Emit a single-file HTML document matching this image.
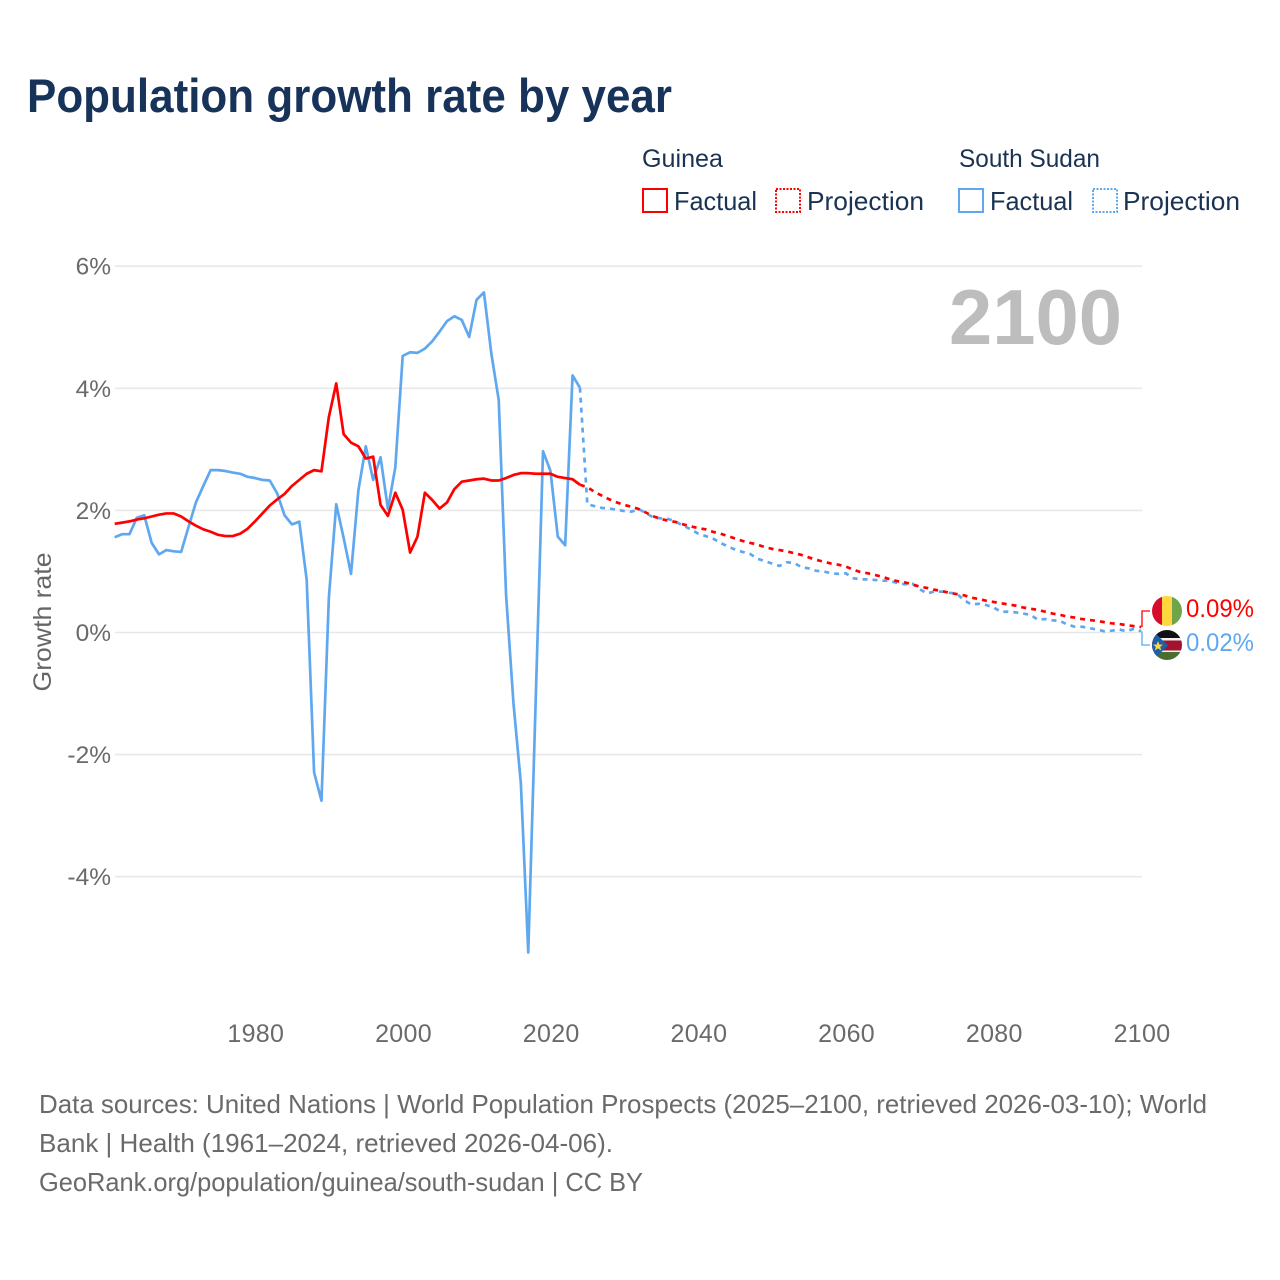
<!DOCTYPE html>
<html lang="en">
<head>
<meta charset="utf-8">
<title>Population growth rate by year</title>
<style>
  html, body { margin: 0; padding: 0; background: #fff; }
  svg { display: block; font-family: "Liberation Sans", Arial, sans-serif; }
</style>
</head>
<body>
<svg id="chart" width="1280" height="1280" viewBox="0 0 1280 1280" xmlns="http://www.w3.org/2000/svg">
  <defs>
    <clipPath id="clip-guinea"><circle cx="1167" cy="611" r="15"/></clipPath>
    <clipPath id="clip-ssudan"><circle cx="1167" cy="645" r="15"/></clipPath>
  </defs>
  <rect x="0" y="0" width="1280" height="1280" fill="#ffffff"/>

  <text x="27" y="112" font-size="47" font-weight="700" fill="#17335a" textLength="645" lengthAdjust="spacingAndGlyphs">Population growth rate by year</text>

  <g>
    <text x="642" y="167" font-size="25" fill="#1a3353" textLength="81" lengthAdjust="spacingAndGlyphs">Guinea</text>
    <rect x="643" y="189" width="24" height="23" fill="none" stroke="#ff0000" stroke-width="2"/>
    <text x="674" y="210" font-size="26" fill="#1a3353" textLength="83" lengthAdjust="spacingAndGlyphs">Factual</text>
    <rect x="776" y="189" width="24" height="23" fill="none" stroke="#ff0000" stroke-width="2" stroke-dasharray="2 1.5"/>
    <text x="807" y="210" font-size="26" fill="#1a3353" textLength="117" lengthAdjust="spacingAndGlyphs">Projection</text>

    <text x="959" y="167" font-size="25" fill="#1a3353" textLength="141" lengthAdjust="spacingAndGlyphs">South Sudan</text>
    <rect x="959" y="189" width="24" height="23" fill="none" stroke="#5fa8f0" stroke-width="2"/>
    <text x="990" y="210" font-size="26" fill="#1a3353" textLength="83" lengthAdjust="spacingAndGlyphs">Factual</text>
    <rect x="1093" y="189" width="24" height="23" fill="none" stroke="#5fa8f0" stroke-width="2" stroke-dasharray="2 1.5"/>
    <text x="1123" y="210" font-size="26" fill="#1a3353" textLength="117" lengthAdjust="spacingAndGlyphs">Projection</text>
  </g>

  <g id="grid"></g>
  <g id="y-ticks"></g>
  <g id="x-ticks"></g>

  <text transform="translate(51,622) rotate(-90)" text-anchor="middle" font-size="25" fill="#666666" textLength="139" lengthAdjust="spacingAndGlyphs">Growth rate</text>

  <text x="949" y="344" font-size="78" font-weight="700" fill="#bdbdbd" textLength="173" lengthAdjust="spacingAndGlyphs">2100</text>

  <g id="series"></g>
  <g id="connectors"></g>

  <g clip-path="url(#clip-guinea)">
    <rect x="1152" y="596" width="10" height="30" fill="#d90b2d"/>
    <rect x="1162" y="596" width="10" height="30" fill="#ffd63d"/>
    <rect x="1172" y="596" width="10" height="30" fill="#6fa548"/>
  </g>
  <g clip-path="url(#clip-ssudan)">
    <rect x="1152" y="630" width="30" height="9" fill="#111111"/>
    <rect x="1152" y="638" width="30" height="3" fill="#f2f2f2"/>
    <rect x="1152" y="640.5" width="30" height="10" fill="#a3132f"/>
    <rect x="1152" y="650.5" width="30" height="2" fill="#f2f2f2"/>
    <rect x="1152" y="652" width="30" height="8" fill="#4a6d30"/>
    <polygon points="1152,630 1168,645.5 1152,661" fill="#1f5fa8"/>
    <polygon points="1158,641 1159.4,644.6 1163,644.6 1160.2,646.9 1161.2,650.5 1158,648.4 1154.8,650.5 1155.8,646.9 1153,644.6 1156.6,644.6" fill="#ffd63d"/>
  </g>

  <text id="end-guinea" x="1186" y="617" font-size="25" fill="#ff0000" textLength="68" lengthAdjust="spacingAndGlyphs"></text>
  <text id="end-ssudan" x="1186" y="651" font-size="25" fill="#5fa8f0" textLength="68" lengthAdjust="spacingAndGlyphs"></text>

  <g>
    <text x="39" y="1113" font-size="26" fill="#6a6a6a" textLength="1168" lengthAdjust="spacingAndGlyphs">Data sources: United Nations | World Population Prospects (2025–2100, retrieved 2026-03-10); World</text>
    <text x="39" y="1152" font-size="26" fill="#6a6a6a" textLength="574" lengthAdjust="spacingAndGlyphs">Bank | Health (1961–2024, retrieved 2026-04-06).</text>
    <text x="39" y="1191" font-size="26" fill="#6a6a6a" textLength="604" lengthAdjust="spacingAndGlyphs">GeoRank.org/population/guinea/south-sudan | CC BY</text>
  </g>
</svg>

<script>
const factualStartYear = 1961;
const projectionStartYear = 2025;
const yTicks = [6, 4, 2, 0, -2, -4];
const xTicks = [1980, 2000, 2020, 2040, 2060, 2080, 2100];

const guineaFactual = [
  1.78, 1.80, 1.82, 1.85, 1.87, 1.90, 1.93, 1.95, 1.95, 1.90,
  1.82, 1.75, 1.69, 1.65, 1.60, 1.58, 1.58, 1.62, 1.70, 1.82,
  1.95, 2.08, 2.18, 2.27, 2.40, 2.50, 2.60, 2.66, 2.64, 3.53,
  4.08, 3.25, 3.11, 3.05, 2.85, 2.88, 2.09, 1.91, 2.29, 2.01,
  1.31, 1.57, 2.29, 2.17, 2.03, 2.13, 2.35, 2.47, 2.49, 2.51,
  2.52, 2.49, 2.49, 2.53, 2.58, 2.61, 2.61, 2.60, 2.60, 2.60,
  2.55, 2.53, 2.51, 2.42
];
const guineaProjection = [
  2.38, 2.30, 2.24, 2.18, 2.13, 2.09, 2.06, 2.02, 1.96, 1.90,
  1.86, 1.83, 1.81, 1.77, 1.74, 1.71, 1.69, 1.65, 1.62, 1.58,
  1.54, 1.50, 1.47, 1.44, 1.40, 1.37, 1.35, 1.33, 1.30, 1.27,
  1.23, 1.19, 1.16, 1.13, 1.11, 1.08, 1.03, 0.99, 0.97, 0.94,
  0.91, 0.87, 0.84, 0.82, 0.79, 0.75, 0.73, 0.70, 0.68, 0.65,
  0.63, 0.61, 0.57, 0.55, 0.52, 0.50, 0.48, 0.46, 0.44, 0.41,
  0.39, 0.37, 0.34, 0.31, 0.29, 0.26, 0.245, 0.22, 0.205, 0.19,
  0.17, 0.15, 0.14, 0.12, 0.105, 0.09
];
const southSudanFactual = [
  1.56, 1.61, 1.61, 1.88, 1.92, 1.47, 1.28, 1.35, 1.33, 1.32,
  1.73, 2.13, 2.40, 2.66, 2.66, 2.645, 2.62, 2.60, 2.55, 2.53,
  2.50, 2.49, 2.28, 1.92, 1.77, 1.815, 0.86, -2.29, -2.755, 0.57,
  2.10, 1.55, 0.96, 2.33, 3.05, 2.50, 2.87, 2.02, 2.71, 4.53,
  4.59, 4.58, 4.65, 4.77, 4.93, 5.10, 5.18, 5.12, 4.84, 5.45,
  5.57, 4.57, 3.81, 0.61, -1.16, -2.47, -5.24, -1.15, 2.97, 2.65,
  1.57, 1.43, 4.21, 4.01
];
const southSudanProjection = [
  2.10, 2.07, 2.04, 2.03, 2.01, 1.99, 1.98, 2.02, 1.95, 1.88,
  1.87, 1.86, 1.81, 1.75, 1.69, 1.62, 1.58, 1.54, 1.47, 1.41,
  1.36, 1.32, 1.29, 1.21, 1.17, 1.13, 1.09, 1.15, 1.14, 1.07,
  1.05, 1.01, 1.00, 0.97, 0.96, 0.97, 0.89, 0.87, 0.87, 0.86,
  0.85, 0.845, 0.81, 0.79, 0.80, 0.71, 0.64, 0.67, 0.67, 0.65,
  0.64, 0.53, 0.46, 0.47, 0.45, 0.41, 0.34, 0.34, 0.33, 0.31,
  0.29, 0.21, 0.22, 0.20, 0.19, 0.13, 0.095, 0.095, 0.07, 0.05,
  0.02, 0.03, 0.05, 0.02, 0.06, 0.02
];

const SVG_NS = 'http://www.w3.org/2000/svg';
const RED = '#ff0000';
const BLUE = '#5fa8f0';

function xScale(year) { return 1141.2 - (2100 - year) * 7.385; }
function yScale(v) { return 632.5 - v * 61.05; }

function linePath(values, startYear, prefixPoint) {
  const pts = [];
  if (prefixPoint) pts.push(prefixPoint);
  values.forEach(function (v, i) {
    pts.push(xScale(startYear + i).toFixed(2) + ',' + yScale(v).toFixed(2));
  });
  return 'M' + pts.join('L');
}

const gridGroup = document.getElementById('grid');
const yTickGroup = document.getElementById('y-ticks');
const xTickGroup = document.getElementById('x-ticks');
const seriesGroup = document.getElementById('series');
const connectorGroup = document.getElementById('connectors');

yTicks.forEach(function (t) {
  const line = document.createElementNS(SVG_NS, 'line');
  line.setAttribute('x1', 115);
  line.setAttribute('x2', 1142);
  line.setAttribute('y1', yScale(t));
  line.setAttribute('y2', yScale(t));
  line.setAttribute('stroke', '#e8e8e8');
  line.setAttribute('stroke-width', '1.6');
  
  
  gridGroup.appendChild(line);

  const label = document.createElementNS(SVG_NS, 'text');
  label.setAttribute('x', 111);
  label.setAttribute('y', yScale(t) + 8.5);
  label.setAttribute('text-anchor', 'end');
  label.setAttribute('font-size', '24.5');
  label.setAttribute('fill', '#6a6a6a');
  
  
  label.textContent = t + '%';
  yTickGroup.appendChild(label);
});

xTicks.forEach(function (t) {
  const label = document.createElementNS(SVG_NS, 'text');
  label.setAttribute('x', xScale(t) + 0.8);
  label.setAttribute('y', 1042);
  label.setAttribute('text-anchor', 'middle');
  label.setAttribute('font-size', '25');
  label.setAttribute('letter-spacing', '0.3');
  label.setAttribute('fill', '#6a6a6a');
  
  
  label.textContent = t;
  xTickGroup.appendChild(label);
});

function addSeries(d, color, dashed, name) {
  const path = document.createElementNS(SVG_NS, 'path');
  path.setAttribute('d', d);
  path.setAttribute('fill', 'none');
  path.setAttribute('stroke', color);
  path.setAttribute('stroke-width', '2.7');
  path.setAttribute('stroke-linejoin', 'round');
  if (dashed) path.setAttribute('stroke-dasharray', '5 5');
  
  
  seriesGroup.appendChild(path);
}

function lastPoint(values, startYear) {
  const i = values.length - 1;
  return xScale(startYear + i).toFixed(2) + ',' + yScale(values[i]).toFixed(2);
}

addSeries(linePath(southSudanFactual, factualStartYear), BLUE, false, 'line-south-sudan-factual');
addSeries(linePath(southSudanProjection, projectionStartYear, lastPoint(southSudanFactual, factualStartYear)), BLUE, true, 'line-south-sudan-projection');
addSeries(linePath(guineaFactual, factualStartYear), RED, false, 'line-guinea-factual');
addSeries(linePath(guineaProjection, projectionStartYear, lastPoint(guineaFactual, factualStartYear)), RED, true, 'line-guinea-projection');

function addConnector(value, labelY, color, name) {
  const path = document.createElementNS(SVG_NS, 'path');
  path.setAttribute('d', 'M1142,' + yScale(value).toFixed(2) + 'L1142,' + labelY + 'L1150,' + labelY);
  path.setAttribute('fill', 'none');
  path.setAttribute('stroke', color);
  path.setAttribute('stroke-width', '1.3');
  
  
  connectorGroup.appendChild(path);
}

const guineaLast = guineaProjection[guineaProjection.length - 1];
const southSudanLast = southSudanProjection[southSudanProjection.length - 1];
addConnector(guineaLast, 611, RED, 'connector-guinea');
addConnector(southSudanLast, 645, BLUE, 'connector-south-sudan');
document.getElementById('end-guinea').textContent = guineaLast.toFixed(2) + '%';
document.getElementById('end-ssudan').textContent = southSudanLast.toFixed(2) + '%';
</script>
</body>
</html>
